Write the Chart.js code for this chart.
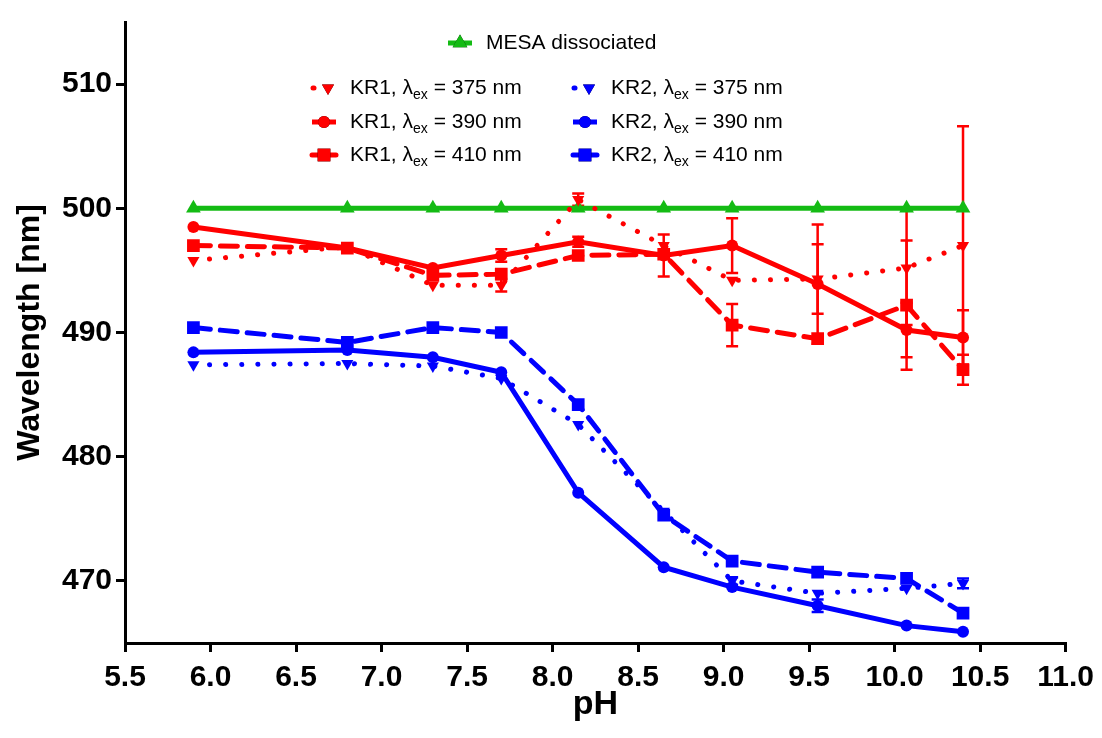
<!DOCTYPE html>
<html>
<head>
<meta charset="utf-8">
<script src="https://cdn.jsdelivr.net/npm/chart.js@4"></script>
<style>
  html, body { margin: 0; padding: 0; background: #fff; }
  #wrap { width: 1102px; height: 738px; position: relative; }
</style>
</head>
<body>
<div id="wrap"><canvas id="myChart"></canvas></div>
<script>
// pH values (x)
const pH = [5.9, 6.8, 7.3, 7.7, 8.15, 8.65, 9.05, 9.55, 10.07, 10.4];

// emission wavelength [nm]
const mesa    = [500, 500, 500, 500, 500, 500, 500, 500, 500, 500];
const kr1_375 = [495.8, 496.9, 493.8, 493.8, 500.7, 497.0, 494.2, 494.3, 495.2, 497.0];
const kr1_390 = [498.5, 496.8, 495.2, 496.2, 497.3, 496.2, 497.0, 493.9, 490.2, 489.6];
const kr1_410 = [497.0, 496.8, 494.6, 494.7, 496.2, 496.3, 490.6, 489.5, 492.2, 487.0];
const kr2_375 = [487.4, 487.5, 487.3, 486.3, 482.6, 475.6, 470.0, 469.0, 469.4, 469.8];
const kr2_390 = [488.4, 488.6, 488.0, 486.8, 477.1, 471.1, 469.5, 468.0, 466.4, 465.9];
const kr2_410 = [490.4, 489.2, 490.4, 490.0, 484.2, 475.3, 471.6, 470.7, 470.2, 467.4];

// error (+/-) [nm]
const kr1_375_err = [0, 0, 0, 0.5, 0.5, 0, 0, 2.8, 4.6, 9.6];
const kr1_390_err = [0, 0, 0, 0.5, 0.4, 1.7, 2.2, 4.8, 2.2, 2.2];
const kr1_410_err = [0, 0, 0, 0, 0, 0, 1.7, 0, 5.2, 1.2];
const kr2_375_err = [0, 0, 0, 0, 0, 0, 0.3, 0, 0, 0.4];
const kr2_390_err = [0, 0, 0, 0, 0, 0, 0, 0.5, 0, 0];

const xTicks = [5.5, 6.0, 6.5, 7.0, 7.5, 8.0, 8.5, 9.0, 9.5, 10.0, 10.5, 11.0];
const yTicks = [470, 480, 490, 500, 510];

const RED = '#ff0000', BLUE = '#0000ff', GREEN = '#14bb14';
const FONT = '"Liberation Sans", Arial, sans-serif';
const DOT = [0.1, 16], DASH = [17, 10];

const pts = vals => pH.map((x, i) => ({ x, y: vals[i] }));

function series(label, ex, vals, err, color, dash, style, radius, rot) {
  return {
    label: label + ', λex = ' + ex + ' nm',
    name: label, ex: ex,
    data: pts(vals), errors: err,
    borderColor: color, backgroundColor: color,
    borderWidth: 5, borderDash: dash, borderCapStyle: dash.length ? 'round' : 'butt',
    pointStyle: style, pointRadius: radius, pointRotation: rot || 0,
    pointBorderWidth: 0, pointHoverRadius: radius,
    tension: 0, order: 1
  };
}

const datasets = [
  Object.assign(series('MESA dissociated', 0, mesa, null, GREEN, [], 'triangle', 8.5), { label: 'MESA dissociated', order: 5 }),
  series('KR1', 375, kr1_375, kr1_375_err, RED, DOT, 'triangle', 7, 180),
  series('KR1', 390, kr1_390, kr1_390_err, RED, [], 'circle', 6),
  series('KR1', 410, kr1_410, kr1_410_err, RED, DASH, 'rect', 9),
  series('KR2', 375, kr2_375, kr2_375_err, BLUE, DOT, 'triangle', 7, 180),
  series('KR2', 390, kr2_390, kr2_390_err, BLUE, [], 'circle', 6),
  series('KR2', 410, kr2_410, null, BLUE, DASH, 'rect', 9)
];

const errorBars = {
  id: 'errorBars',
  beforeDatasetsDraw(chart) {
    const { ctx, scales: { x, y } } = chart;
    chart.data.datasets.forEach(ds => {
      if (!ds.errors) return;
      ctx.save();
      ctx.strokeStyle = ds.borderColor;
      ctx.lineWidth = 2.5;
      ds.data.forEach((p, i) => {
        const e = ds.errors[i];
        if (!e) return;
        const px = x.getPixelForValue(p.x);
        const top = y.getPixelForValue(p.y + e), bot = y.getPixelForValue(p.y - e);
        ctx.beginPath();
        ctx.moveTo(px, top); ctx.lineTo(px, bot);
        ctx.moveTo(px - 6, top); ctx.lineTo(px + 6, top);
        ctx.moveTo(px - 6, bot); ctx.lineTo(px + 6, bot);
        ctx.stroke();
      });
      ctx.restore();
    });
  }
};

// legend: MESA centred on top, KR1 left column, KR2 right column
const legendBox = {
  id: 'legendBox',
  afterDraw(chart) {
    const ctx = chart.ctx;
    const ds = chart.data.datasets;
    const spots = [[448, 43], [312, 88], [312, 122], [312, 155], [573, 88], [573, 122], [573, 155]];
    ds.forEach((d, i) => {
      const [x0, y0] = spots[i];
      ctx.save();
      ctx.strokeStyle = d.borderColor;
      ctx.lineWidth = 5;
      ctx.lineCap = d.borderCapStyle;
      ctx.beginPath();
      if (d.borderDash !== DOT) {
        ctx.moveTo(x0, y0); ctx.lineTo(x0 + 24, y0);
      } else {
        ctx.moveTo(x0 + 1, y0); ctx.lineTo(x0 + 2, y0);
      }
      ctx.stroke();
      Chart.helpers.drawPoint(ctx, {
        pointStyle: d.pointStyle, radius: d.pointRadius, rotation: d.pointRotation, borderWidth: 0
      }, x0 + (d.borderDash === DOT ? 16 : 12), y0);
      ctx.fillStyle = d.borderColor;
      ctx.fill();
      ctx.fillStyle = '#000';
      ctx.textBaseline = 'middle';
      let tx = x0 + 38;
      ctx.font = '21px ' + FONT;
      if (i === 0) {
        ctx.fillText(d.label, tx, y0);
      } else {
        const a = d.name + ', λ';
        ctx.fillText(a, tx, y0); tx += ctx.measureText(a).width;
        ctx.font = '14px ' + FONT;
        ctx.fillText('ex', tx, y0 + 7); tx += ctx.measureText('ex').width;
        ctx.font = '21px ' + FONT;
        ctx.fillText(' = ' + d.ex + ' nm', tx, y0);
      }
      ctx.restore();
    });
  }
};

new Chart(document.getElementById('myChart'), {
  type: 'line',
  data: { datasets },
  plugins: [errorBars, legendBox],
  options: {
    responsive: true,
    maintainAspectRatio: false,
    animation: false,
    layout: { padding: { top: 13, right: 35, left: 0, bottom: 0 } },
    plugins: { legend: { display: false }, tooltip: { enabled: false } },
    scales: {
      x: {
        type: 'linear', min: 5.5, max: 11.0,
        afterBuildTicks: s => { s.ticks = xTicks.map(v => ({ value: v })); },
        afterFit: s => { s.height = 95; },
        border: { color: '#000', width: 3 },
        grid: { drawOnChartArea: false, color: '#000', lineWidth: 3, tickLength: 9 },
        ticks: { color: '#000', font: { family: FONT, size: 30, weight: 'bold' }, padding: 8, maxRotation: 0,
                 callback: v => v.toFixed(1) },
        title: { display: true, text: 'pH', color: '#000', font: { family: FONT, size: 34, weight: 'bold' }, padding: { top: 0, bottom: 13 } }
      },
      y: {
        min: 465, max: 515,
        afterBuildTicks: s => { s.ticks = yTicks.map(v => ({ value: v })); },
        afterFit: s => { s.width = 125; },
        border: { color: '#000', width: 3 },
        grid: { drawOnChartArea: false, color: '#000', lineWidth: 3, tickLength: 9 },
        ticks: { color: '#000', font: { family: FONT, size: 30, weight: 'bold' }, padding: 4 },
        title: { display: true, text: 'Wavelength [nm]', color: '#000', font: { family: FONT, size: 32, weight: 'bold' }, padding: { top: 11, bottom: 0 } }
      }
    }
  }
});
</script>
</body>
</html>
